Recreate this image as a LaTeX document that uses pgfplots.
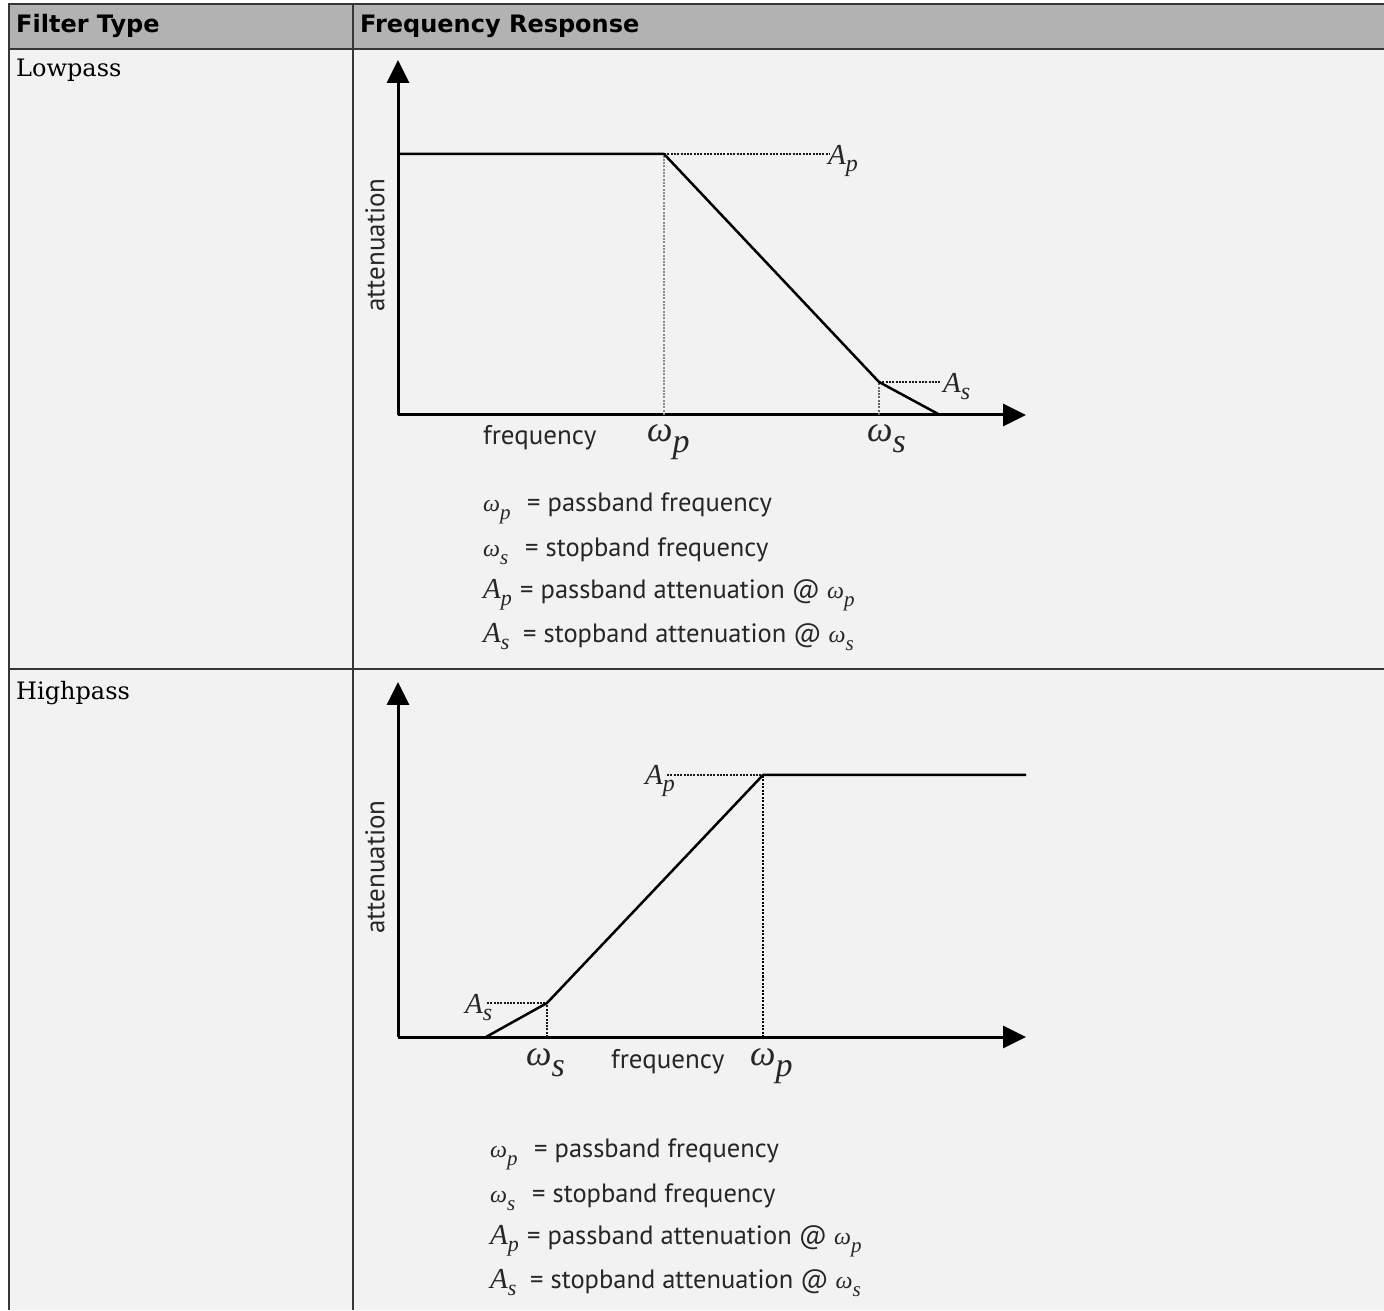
\documentclass[border=0pt]{standalone}
\usepackage{pgfplots}
\pgfplotsset{compat=1.18}
\usetikzlibrary{arrows.meta}
\usepackage{fontspec}
\setmainfont{DejaVu Serif}
\newfontfamily\hdrfont{DejaVu Sans}
\newfontfamily\dfont{PT Sans}
\newfontfamily\ifont{Liberation Serif}

\definecolor{hdrgray}{HTML}{B2B2B2}
\definecolor{cellbg}{HTML}{F2F2F2}
\definecolor{rule}{HTML}{363636}

\newcommand{\fs}[1]{\fontsize{#1}{#1}\selectfont}
% labels on the diagrams
\newcommand{\biglab}[2]{{\ifont\itshape\fs{29}#1\raisebox{-7pt}{\fs{24}#2}}}
\newcommand{\wlab}[1]{{\ifont\itshape\fs{36}ω\raisebox{-11pt}{\fs{34}#1}}}
% symbols in the legend lines
\newcommand{\smw}[1]{{\ifont\itshape\fs{24}ω\raisebox{-8pt}{\fs{21}#1}}}
\newcommand{\smA}[1]{{\ifont\itshape\fs{29}A\raisebox{-7pt}{\fs{22}#1}}}

\pgfplotsset{
  diagram/.style={
    width=628pt, height=355pt, scale only axis,
    xmin=0, xmax=628, ymin=0, ymax=355,
    axis lines=left,
    axis line style={line width=3pt, black, -{Triangle[length=23pt,width=22pt]}},
    xtick=\empty, ytick=\empty,
    clip=false,
    anchor=south west,
  },
  curve/.style={black, line width=2.5pt, line join=round, no marks},
  dots/.style={black!90, line width=2.4pt, dash pattern=on 2pt off 1.3pt, no marks},
}
\tikzset{
  lg/.style={anchor=base west, inner sep=0pt, font={\dfont\fs{26.5}}, text=black!85},
  dl/.style={anchor=base west, inner sep=0pt, text=black!85},
}

\newcommand{\legendblock}{%
  \node[lg] at (0,0) {\smw{p}};
  \node[lg] at (44,0) {= passband frequency};
  \node[lg] at (0,-45) {\smw{s}};
  \node[lg] at (42,-45) {= stopband frequency};
  \node[lg] at (0,-87) {\smA{p}};
  \node[lg] at (37,-87) {= passband attenuation @ \smw{p}};
  \node[lg] at (0,-131) {\smA{s}};
  \node[lg] at (40,-131) {= stopband attenuation @ \smw{s}};
}

\begin{document}
\begin{tikzpicture}
\begin{scope}[x=1pt, y=1pt]
  \useasboundingbox (0,0) rectangle (1384,1310);
  \fill[white] (0,0) rectangle (1384,1310);
  \fill[cellbg] (8,0) rectangle (1384,1262);
  \fill[hdrgray] (8,1262) rectangle (1384,1306);
  \draw[rule, line width=2pt] (8,1306) -- (1384,1306);
  \draw[rule, line width=2pt] (8,1261) -- (1384,1261);
  \draw[rule, line width=2pt] (8,641) -- (1384,641);
  \draw[rule, line width=2pt] (9,0) -- (9,1307);
  \draw[rule, line width=2pt] (353,0) -- (353,1307);

  \node[anchor=base west, inner sep=0pt, font={\hdrfont\bfseries\fs{24}}] at (16,{1310-33}) {Filter Type};
  \node[anchor=base west, inner sep=0pt, font={\hdrfont\bfseries\fs{24}}] at (360,{1310-33}) {Frequency Response};
  \node[anchor=base west, inner sep=0pt, font=\fs{24}] at (16,{1310-77}) {Lowpass};
  \node[anchor=base west, inner sep=0pt, font=\fs{24}] at (16,{1310-700}) {Highpass};

  \begin{scope}[shift={(483,{1310-512})}]
    \legendblock
  \end{scope}
  \begin{scope}[shift={(490,{1310-1157})}]
    \legendblock
  \end{scope}
\end{scope}

% lowpass
\begin{axis}[diagram, at={(398pt,895pt)}]
  \addplot[dots, black!45] coordinates {(266,0) (266,261)};
  \addplot[dots, black!60] coordinates {(481,0) (481,33)};
  \addplot[dots] coordinates {(266,261) (432,261)};
  \addplot[dots] coordinates {(481,33) (542,33)};
  \addplot[curve] coordinates {(0,261) (266,261) (481,33) (542,0)};
  \node[dl] at (axis cs:430,250) {\biglab{A}{p}};
  \node[dl] at (axis cs:545,22) {\biglab{A}{s}};
  \node[dl] at (axis cs:249,-27) {\wlab{p}};
  \node[dl] at (axis cs:469,-27) {\wlab{s}};
  \node[dl, font={\dfont\fs{27}}] at (axis cs:85,-30) {frequency};
  \node[rotate=90, text=black!85, font={\dfont\fs{27}}] at (axis cs:-23,170) {attenuation};
\end{axis}

% highpass
\begin{axis}[diagram, at={(398pt,273pt)}]
  \addplot[black, line width=1.4pt, dash pattern=on 2pt off 1.5pt, no marks] coordinates {(365,0) (365,262)};
  \addplot[dots] coordinates {(149,0) (149,34)};
  \addplot[dots] coordinates {(269,262) (365,262)};
  \addplot[dots] coordinates {(89,34) (149,34)};
  \addplot[curve] coordinates {(88,0) (149,34) (365,262) (628,262)};
  \node[dl] at (axis cs:247,252) {\biglab{A}{p}};
  \node[dl] at (axis cs:67,24) {\biglab{A}{s}};
  \node[dl] at (axis cs:128,-28) {\wlab{s}};
  \node[dl] at (axis cs:352,-28) {\wlab{p}};
  \node[dl, font={\dfont\fs{27}}] at (axis cs:213,-31) {frequency};
  \node[rotate=90, text=black!85, font={\dfont\fs{27}}] at (axis cs:-23,170) {attenuation};
\end{axis}
\end{tikzpicture}
\end{document}
